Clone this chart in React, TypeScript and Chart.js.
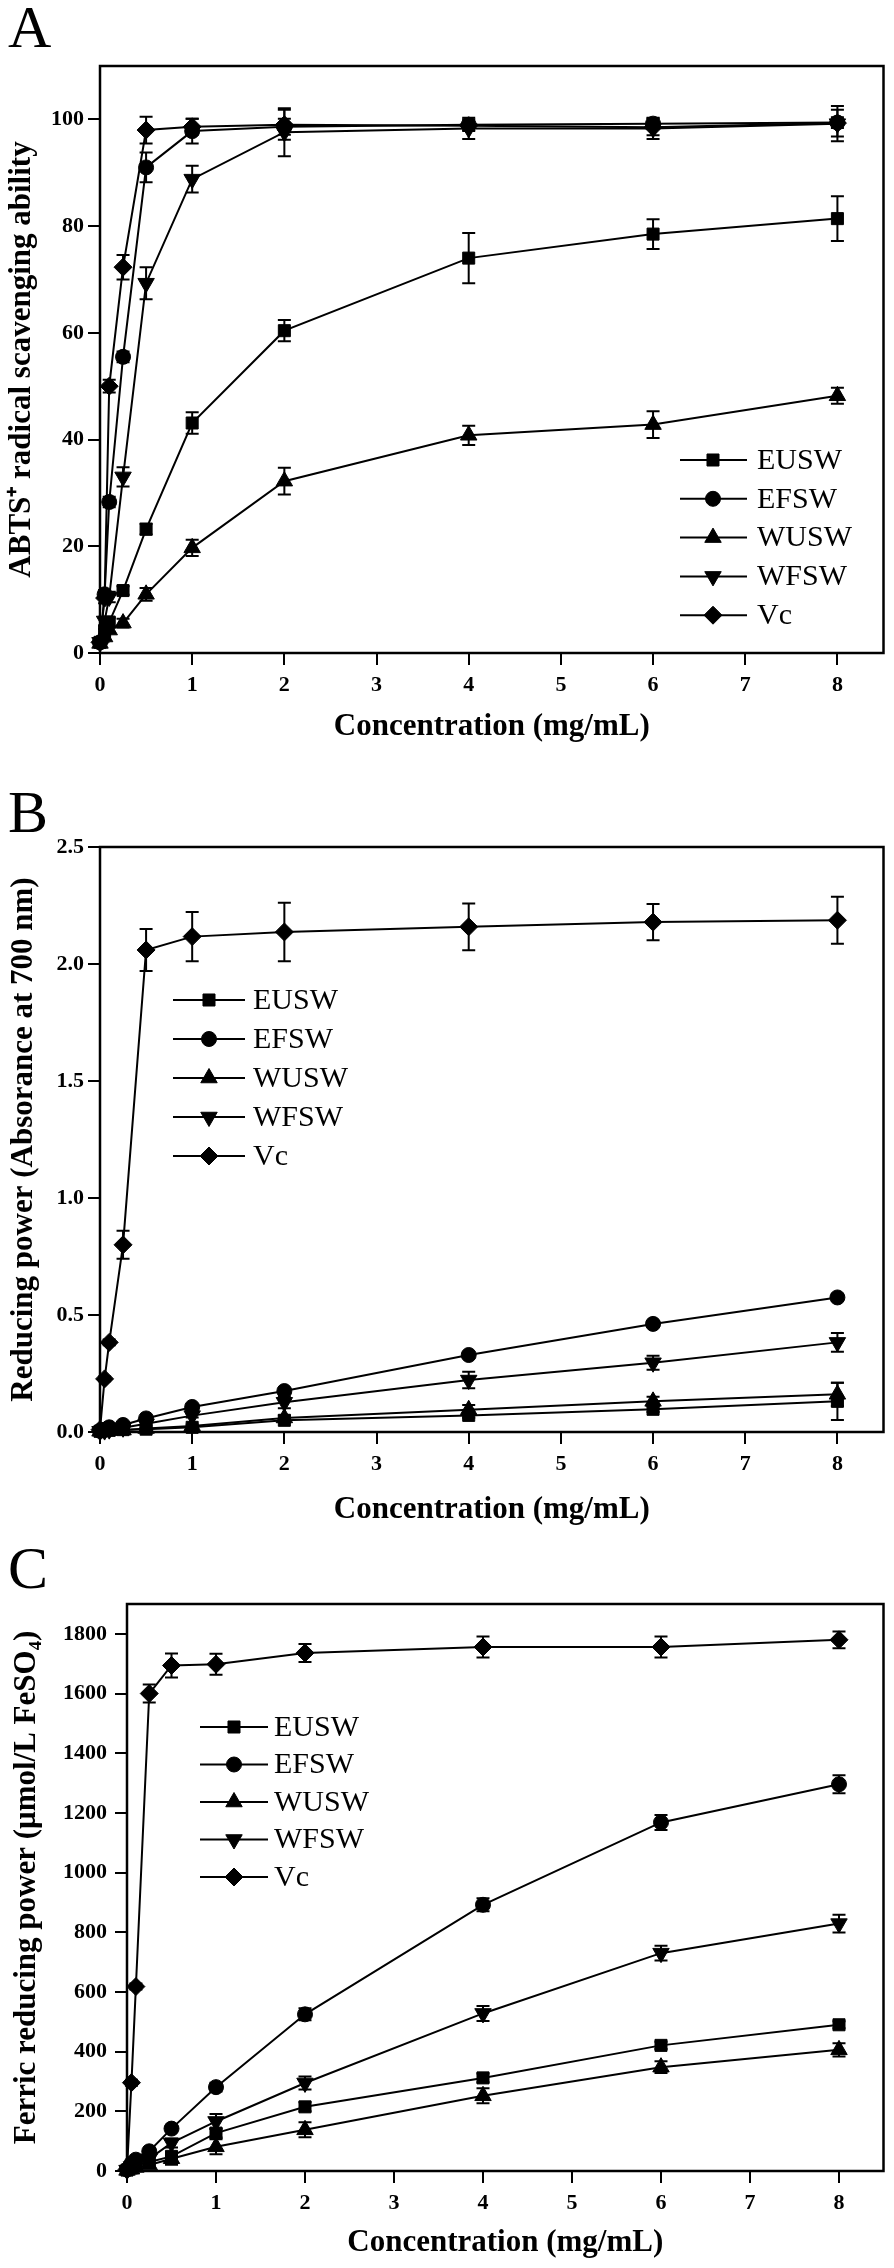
import React, { useEffect, useRef } from "react";
import { Chart, registerables } from "chart.js";

Chart.register(...registerables);

// ---------------- DATA ----------------
const concentrations = [0, 0.05, 0.1, 0.25, 0.5, 1, 2, 4, 6, 8];
const seriesNames = ["EUSW", "EFSW", "WUSW", "WFSW", "Vc"];
const xTickValues = [0, 1, 2, 3, 4, 5, 6, 7, 8];

// Panel A: ABTS+ radical scavenging ability (%)
const abtsTicks = [0, 20, 40, 60, 80, 100];
const abtsEUSW = [2.0, 4.0, 5.8, 11.7, 23.2, 43.1, 60.4, 74.0, 78.5, 81.4];
const abtsEUSWErr = [0.5, 0.5, 0.8, 0.8, 1.0, 2.0, 2.0, 4.7, 2.8, 4.2];
const abtsEFSW = [2.0, 11.0, 28.3, 55.5, 91.0, 97.8, 98.6, 99.0, 99.2, 99.4];
const abtsEFSWErr = [0.5, 0.8, 1.0, 1.0, 2.8, 2.3, 1.5, 1.0, 1.0, 1.0];
const abtsWUSW = [1.8, 3.0, 4.3, 5.6, 11.0, 19.7, 32.2, 40.8, 42.8, 48.2];
const abtsWUSWErr = [0.5, 0.5, 0.5, 0.8, 1.2, 1.5, 2.5, 1.8, 2.5, 1.5];
const abtsWFSW = [2.0, 6.0, 10.5, 33.0, 69.3, 88.8, 97.6, 98.3, 98.3, 99.2];
const abtsWFSWErr = [0.5, 0.8, 1.0, 1.8, 3.0, 2.5, 4.5, 2.0, 2.0, 3.3];
const abtsVc = [2.0, 10.3, 50.0, 72.3, 98.0, 98.6, 99.0, 98.8, 98.5, 99.3];
const abtsVcErr = [0.5, 1.0, 1.2, 2.3, 2.5, 1.5, 2.8, 1.0, 1.5, 2.5];

// Panel B: Reducing power (absorbance at 700 nm)
const rpTicks = [0, 0.5, 1.0, 1.5, 2.0, 2.5];
const rpEUSW = [0.003, 0.005, 0.007, 0.010, 0.012, 0.020, 0.050, 0.071, 0.097, 0.131];
const rpEUSWErr = [0.003, 0.003, 0.003, 0.004, 0.004, 0.005, 0.008, 0.010, 0.012, 0.080];
const rpEFSW = [0.005, 0.010, 0.020, 0.030, 0.058, 0.107, 0.175, 0.329, 0.462, 0.575];
const rpEFSWErr = [0.003, 0.003, 0.004, 0.005, 0.006, 0.008, 0.010, 0.012, 0.012, 0.015];
const rpWUSW = [0.003, 0.004, 0.006, 0.008, 0.015, 0.026, 0.060, 0.095, 0.131, 0.161];
const rpWUSWErr = [0.003, 0.003, 0.003, 0.004, 0.005, 0.006, 0.010, 0.020, 0.020, 0.050];
const rpWFSW = [0.003, 0.006, 0.010, 0.018, 0.035, 0.070, 0.127, 0.222, 0.296, 0.383];
const rpWFSWErr = [0.003, 0.003, 0.004, 0.005, 0.006, 0.008, 0.025, 0.035, 0.030, 0.040];
const rpVc = [0.010, 0.227, 0.383, 0.800, 2.060, 2.117, 2.137, 2.159, 2.179, 2.187];
const rpVcErr = [0.005, 0.010, 0.012, 0.060, 0.090, 0.105, 0.125, 0.100, 0.077, 0.100];

// Panel C: Ferric reducing power (umol/L FeSO4)
const frapTicks = [0, 200, 400, 600, 800, 1000, 1200, 1400, 1600, 1800];
const frapEUSW = [3, 10, 18, 30, 49, 127, 215, 312, 421, 490];
const frapEUSWErr = [2, 3, 4, 5, 8, 15, 15, 15, 12, 12];
const frapEFSW = [5, 25, 38, 66, 142, 281, 525, 892, 1168, 1296];
const frapEFSWErr = [3, 5, 6, 8, 10, 15, 20, 22, 25, 30];
const frapWUSW = [2, 6, 12, 20, 41, 81, 138, 252, 348, 406];
const frapWUSWErr = [2, 3, 4, 5, 20, 25, 25, 25, 20, 22];
const frapWFSW = [3, 15, 25, 41, 94, 166, 295, 528, 730, 829];
const frapWFSWErr = [2, 3, 4, 5, 15, 25, 22, 25, 25, 30];
const frapVc = [5, 296, 618, 1600, 1694, 1698, 1736, 1756, 1756, 1780];
const frapVcErr = [3, 10, 10, 30, 40, 35, 30, 35, 35, 28];

// ---------------- STYLE ----------------
const FONT = "'Liberation Serif', 'Times New Roman', serif";
const MARKERS = [
  { style: "rect", rotation: 0, radius: 8.5 },
  { style: "circle", rotation: 0, radius: 7.5 },
  { style: "triangle", rotation: 0, radius: 9.5 },
  { style: "triangle", rotation: 180, radius: 9.5 },
  { style: "rectRot", rotation: 0, radius: 9 },
];

function drawMarker(ctx: CanvasRenderingContext2D, m: any, x: number, y: number) {
  const r = m.radius;
  ctx.save();
  ctx.translate(x, y);
  ctx.rotate((m.rotation * Math.PI) / 180);
  ctx.beginPath();
  if (m.style === "circle") {
    ctx.arc(0, 0, r, 0, Math.PI * 2);
  } else if (m.style === "rect") {
    const s = r * Math.SQRT1_2;
    ctx.rect(-s, -s, 2 * s, 2 * s);
  } else if (m.style === "triangle") {
    let a = 0;
    ctx.moveTo(Math.sin(a) * r, -Math.cos(a) * r);
    a += (2 * Math.PI) / 3;
    ctx.lineTo(Math.sin(a) * r, -Math.cos(a) * r);
    a += (2 * Math.PI) / 3;
    ctx.lineTo(Math.sin(a) * r, -Math.cos(a) * r);
    ctx.closePath();
  } else {
    ctx.moveTo(-r, 0);
    ctx.lineTo(0, -r);
    ctx.lineTo(r, 0);
    ctx.lineTo(0, r);
    ctx.closePath();
  }
  ctx.fillStyle = "#000";
  ctx.strokeStyle = "#000";
  ctx.lineWidth = 1;
  ctx.fill();
  ctx.stroke();
  ctx.restore();
}

const framePlugin = {
  id: "frame",
  beforeDatasetsDraw(chart: any) {
    const { ctx, chartArea } = chart;
    ctx.save();
    ctx.strokeStyle = "#000";
    ctx.lineWidth = 2.5;
    ctx.strokeRect(chartArea.left, chartArea.top, chartArea.right - chartArea.left, chartArea.bottom - chartArea.top);
    ctx.restore();
  },
};

const errorBarPlugin = {
  id: "errorBars",
  afterDatasetsDraw(chart: any) {
    const ctx = chart.ctx;
    const yScale = chart.scales.y;
    ctx.save();
    ctx.strokeStyle = "#000";
    ctx.lineWidth = 2;
    chart.data.datasets.forEach((ds: any, di: number) => {
      const meta = chart.getDatasetMeta(di);
      const errs: number[] = ds.errors || [];
      meta.data.forEach((pt: any, i: number) => {
        const e = errs[i];
        if (!e) return;
        const v = ds.data[i].y;
        const yt = yScale.getPixelForValue(v + e);
        const yb = yScale.getPixelForValue(v - e);
        const x = pt.x;
        const cw = 6.5;
        ctx.beginPath();
        ctx.moveTo(x, yt);
        ctx.lineTo(x, yb);
        ctx.moveTo(x - cw, yt);
        ctx.lineTo(x + cw, yt);
        ctx.moveTo(x - cw, yb);
        ctx.lineTo(x + cw, yb);
        ctx.stroke();
      });
    });
    ctx.restore();
  },
};

const lineLegendPlugin = {
  id: "lineLegend",
  afterDraw(chart: any) {
    const o = chart.options.plugins.lineLegend;
    if (!o) return;
    const ctx = chart.ctx;
    ctx.save();
    chart.data.datasets.forEach((ds: any, i: number) => {
      const y = o.y0 + i * o.dy;
      ctx.strokeStyle = "#000";
      ctx.lineWidth = 2;
      ctx.beginPath();
      ctx.moveTo(o.x0, y);
      ctx.lineTo(o.x1, y);
      ctx.stroke();
      drawMarker(ctx, MARKERS[i], o.xm, y);
      ctx.fillStyle = "#000";
      ctx.font = `30px ${FONT}`;
      ctx.textBaseline = "middle";
      ctx.textAlign = "left";
      ctx.fillText(ds.label, o.xt, y + 1);
    });
    ctx.restore();
  },
};

type Panel = {
  top: number;
  height: number;
  area: { left: number; right: number; top: number; bottom: number };
  bottomPad: number;
  yTitle: string;
  yTitlePad: number;
  yMax: number;
  yTicks: number[];
  yFormat: (v: number) => string;
  yTickPad: number;
  values: number[][];
  errors: number[][];
  legend: { x0: number; x1: number; xm: number; xt: number; y0: number; dy: number };
  letter: string;
  letterTop: number;
};

const panels: Panel[] = [
  {
    top: 0,
    height: 760,
    area: { left: 100, right: 889, top: 66, bottom: 653 },
    bottomPad: 14,
    yTitle: "ABTS\u207A radical scavenging ability",
    yTitlePad: 3,
    yMax: 110,
    yTicks: abtsTicks,
    yFormat: (v) => String(v),
    yTickPad: 4,
    values: [abtsEUSW, abtsEFSW, abtsWUSW, abtsWFSW, abtsVc],
    errors: [abtsEUSWErr, abtsEFSWErr, abtsWUSWErr, abtsWFSWErr, abtsVcErr],
    legend: { x0: 680, x1: 747, xm: 713, xt: 757, y0: 460, dy: 38.8 },
    letter: "A",
    letterTop: -3,
  },
  {
    top: 760,
    height: 780,
    area: { left: 100, right: 889, top: 87, bottom: 672 },
    bottomPad: 11,
    yTitle: "Reducing power (Absorance at 700 nm)",
    yTitlePad: 5,
    yMax: 2.5,
    yTicks: rpTicks,
    yFormat: (v) => v.toFixed(1),
    yTickPad: 4,
    values: [rpEUSW, rpEFSW, rpWUSW, rpWFSW, rpVc],
    errors: [rpEUSWErr, rpEFSWErr, rpWUSWErr, rpWFSWErr, rpVcErr],
    legend: { x0: 173, x1: 245, xm: 209, xt: 253, y0: 240, dy: 39 },
    letter: "B",
    letterTop: 782,
  },
  {
    top: 1540,
    height: 728,
    area: { left: 127, right: 891, top: 64, bottom: 631 },
    bottomPad: 6,
    yTitle: "Ferric reducing power (\u03BCmol/L FeSO\u2084)",
    yTitlePad: 8,
    yMax: 1900,
    yTicks: frapTicks,
    yFormat: (v) => String(v),
    yTickPad: 8,
    values: [frapEUSW, frapEFSW, frapWUSW, frapWFSW, frapVc],
    errors: [frapEUSWErr, frapEFSWErr, frapWUSWErr, frapWFSWErr, frapVcErr],
    legend: { x0: 200, x1: 268, xm: 234, xt: 274, y0: 187, dy: 37.5 },
    letter: "C",
    letterTop: 1538,
  },
];

function buildConfig(p: Panel): any {
  const datasets = p.values.map((vals, si) => ({
    label: seriesNames[si],
    data: concentrations.map((x, i) => ({ x, y: vals[i] })),
    errors: p.errors[si],
    borderColor: "#000",
    backgroundColor: "#000",
    borderWidth: 2,
    pointStyle: MARKERS[si].style,
    rotation: MARKERS[si].rotation,
    pointRadius: MARKERS[si].radius,
    pointBorderWidth: 1,
    pointBackgroundColor: "#000",
    pointBorderColor: "#000",
    tension: 0,
    fill: false,
    clip: false,
  }));
  const xScaleHeight = p.height - p.bottomPad - p.area.bottom;
  return {
    type: "line",
    data: { datasets },
    plugins: [framePlugin, errorBarPlugin, lineLegendPlugin],
    options: {
      responsive: false,
      animation: false,
      devicePixelRatio: 1,
      events: [],
      layout: {
        padding: { top: p.area.top, left: 0, right: 894 - p.area.right, bottom: p.bottomPad },
      },
      plugins: {
        legend: { display: false },
        tooltip: { enabled: false },
        title: { display: false },
        lineLegend: p.legend,
      },
      scales: {
        x: {
          type: "linear",
          min: 0,
          max: 8.5,
          afterBuildTicks: (s: any) => {
            s.ticks = xTickValues.map((v) => ({ value: v }));
          },
          afterFit: (s: any) => {
            s.height = xScaleHeight;
          },
          ticks: {
            color: "#000",
            font: { family: FONT, size: 22, weight: "bold" },
            padding: 7,
            maxRotation: 0,
            autoSkip: false,
            callback: (v: any) => String(v),
          },
          grid: { display: true, drawOnChartArea: false, drawTicks: true, tickLength: 12, color: "#000", lineWidth: 2 },
          border: { display: false },
          title: {
            display: true,
            text: "Concentration (mg/mL)",
            color: "#000",
            font: { family: FONT, size: 31, weight: "bold" },
            padding: { top: 0, bottom: 0 },
          },
        },
        y: {
          type: "linear",
          min: 0,
          max: p.yMax,
          afterBuildTicks: (s: any) => {
            s.ticks = p.yTicks.map((v) => ({ value: v }));
          },
          afterFit: (s: any) => {
            s.width = p.area.left;
          },
          ticks: {
            color: "#000",
            font: { family: FONT, size: 22, weight: "bold" },
            padding: p.yTickPad,
            autoSkip: false,
            callback: (v: any) => p.yFormat(Number(v)),
          },
          grid: { display: true, drawOnChartArea: false, drawTicks: true, tickLength: 12, color: "#000", lineWidth: 2 },
          border: { display: false },
          title: {
            display: true,
            text: p.yTitle,
            color: "#000",
            font: { family: FONT, size: 31, weight: "bold" },
            padding: { top: p.yTitlePad, bottom: 0 },
          },
        },
      },
    },
  };
}

function ChartPanel({ p }: { p: Panel }) {
  const ref = useRef<HTMLCanvasElement | null>(null);
  useEffect(() => {
    if (!ref.current) return;
    const chart = new Chart(ref.current, buildConfig(p));
    return () => chart.destroy();
  }, [p]);
  return (
    <canvas
      ref={ref}
      width={894}
      height={p.height}
      style={{ position: "absolute", left: 0, top: p.top, width: 894, height: p.height }}
    />
  );
}

export default function App() {
  return (
    <div style={{ position: "absolute", left: 0, top: 0, width: 894, height: 2268, background: "#fff", overflow: "hidden" }}>
      {panels.map((p) => (
        <ChartPanel key={p.letter} p={p} />
      ))}
      {panels.map((p) => (
        <div
          key={"L" + p.letter}
          style={{
            position: "absolute",
            left: 8,
            top: p.letterTop,
            fontFamily: FONT,
            fontSize: 60,
            lineHeight: 1,
            color: "#000",
          }}
        >
          {p.letter}
        </div>
      ))}
    </div>
  );
}
